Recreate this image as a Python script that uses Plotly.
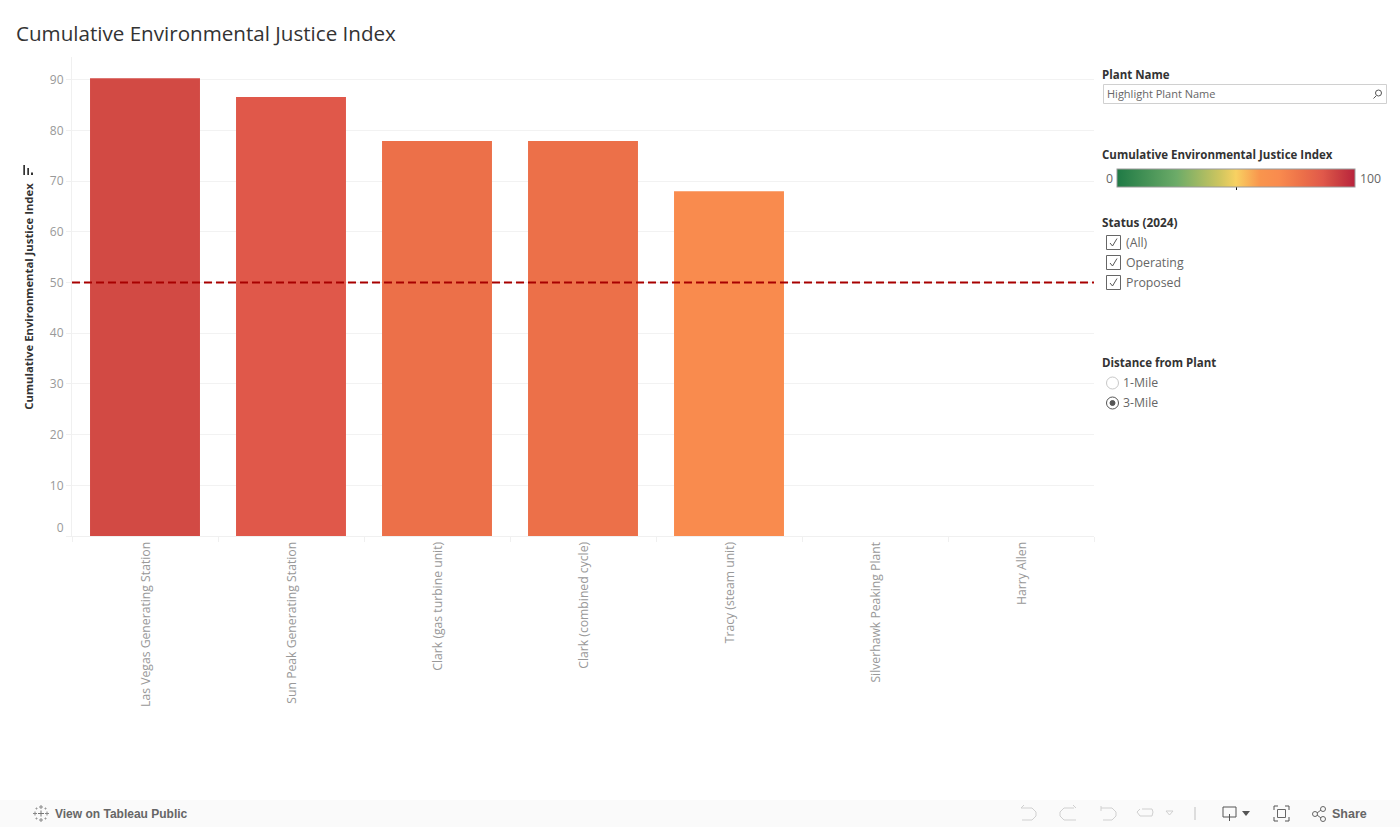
import plotly.graph_objects as go

plants = ["Las Vegas Generating Station", "Sun Peak Generating Station", "Clark (gas turbine unit)",
          "Clark (combined cycle)", "Tracy (steam unit)", "Silverhawk Peaking Plant", "Harry Allen"]
index_values = [90.3, 86.6, 77.9, 77.9, 68.0, 0, 0]
threshold = 50
y_ticks = [0, 10, 20, 30, 40, 50, 60, 70, 80, 90]
y_labels = ["0<br>&nbsp;"] + [str(v) for v in y_ticks[1:]]
colorscale = [[0, "#1f7a45"], [0.25, "#6cab68"], [0.43, "#cdc55f"], [0.5, "#f8d162"],
              [0.6, "#f9954d"], [0.68, "#f98b4e"], [0.779, "#ec7049"], [0.866, "#e0584a"],
              [0.903, "#d24a44"], [1, "#b8233c"]]

W, H = 1400, 827
L, R, T, B = 72, 1094, 57, 536
FONT = "Open Sans"
GREY = "#999999"
DARK = "#333333"
MID = "#666666"


def px(x):
    return x / W


def py(y):
    return 1 - y / H


shapes = []
annotations = []


def text(x, y, s, size=12.3, color=DARK, bold=False, font=FONT, anchor="left"):
    annotations.append(dict(xref="paper", yref="paper", x=px(x), y=py(y), text=f"<b>{s}</b>" if bold else s,
                            showarrow=False, xanchor=anchor, yanchor="middle", xshift=0,
                            font=dict(family=font, size=size, color=color), borderpad=0, borderwidth=0))


def rect(x0, y0, x1, y1, line="#999999", fill="rgba(0,0,0,0)", width=1):
    shapes.append(dict(type="rect", xref="paper", yref="paper", x0=px(x0), y0=py(y0), x1=px(x1), y1=py(y1),
                       line=dict(color=line, width=width), fillcolor=fill, layer="above"))


def seg(pts, color="#555555", width=1):
    for (a, b), (c, d) in zip(pts, pts[1:]):
        shapes.append(dict(type="line", xref="paper", yref="paper", x0=px(a), y0=py(b), x1=px(c), y1=py(d),
                           line=dict(color=color, width=width), layer="above"))


def circle(x, y, r, line="#999999", fill="rgba(0,0,0,0)", width=1):
    shapes.append(dict(type="circle", xref="paper", yref="paper", x0=px(x - r), y0=py(y - r), x1=px(x + r),
                       y1=py(y + r), line=dict(color=line, width=width), fillcolor=fill, layer="above"))


# Title
text(16, 33, "Cumulative Environmental Justice Index", size=20.6, color="#333333")

# Plant Name filter
text(1102, 75, "Plant Name", size=11.5, bold=True)
rect(1103.5, 84.5, 1386.5, 103.5, line="#d0d0d0")
text(1107, 94, "Highlight Plant Name", size=11, color=MID)
circle(1378.5, 93, 3, line="#555555")
seg([(1376, 96), (1373.5, 98.5)])

# Colour legend labels
text(1102, 155, "Cumulative Environmental Justice Index", size=11.5, bold=True)
text(1113, 178, "0", color=MID, anchor="right")
text(1360, 178, "100", color=MID)
seg([(1236.5, 186), (1236.5, 190)], color="#111111")

# Status filter
text(1102, 222.5, "Status (2024)", size=11.8, bold=True)
for yy, s in zip([243, 263, 283], ["(All)", "Operating", "Proposed"]):
    rect(1106.5, yy - 7.5, 1120.5, yy + 6.5, line="#666666")
    seg([(1110, yy), (1112.5, yy + 3), (1117, yy - 4.5)], color="#555555")
    text(1126, yy - 0.4, s, color=MID)

# Distance filter
text(1102, 362.5, "Distance from Plant", size=11.5, bold=True)
circle(1112.5, 383, 6, line="#c8c8c8")
text(1123, 382.6, "1-Mile", color=MID)
circle(1112.5, 403, 6, line="#555555")
circle(1112.5, 403, 2.5, line="#555555", fill="#555555")
text(1123, 402.6, "3-Mile", color=MID)

# Sort icon beside the axis title
for x0, x1, top in [(23.3, 25, 165), (27.3, 29, 168), (31, 33, 172.5)]:
    shapes.append(dict(type="rect", xref="paper", yref="paper", x0=px(x0), x1=px(x1), y0=py(175), y1=py(top),
                       fillcolor=DARK, line_width=0, layer="above"))

# Toolbar
shapes.append(dict(type="rect", xref="paper", yref="paper", x0=0, x1=1, y0=0, y1=py(800), fillcolor="#fafafa",
                   line_width=0, layer="below"))
text(55, 813.5, "View on Tableau Public", size=12, color=MID, bold=True, font="Liberation Sans")
text(1332, 813.5, "Share", size=12.5, color=MID, bold=True, font="Liberation Sans")
for cx, cy, r, c in [(41, 813.5, 3, "#777777"), (35, 813.5, 2, "#888888"), (47, 813.5, 2, "#888888"),
                     (41, 807, 2, "#888888"), (41, 820, 2, "#888888"), (36.5, 808.5, 1, "#999999"),
                     (45.5, 808.5, 1, "#999999"), (36.5, 818.5, 1, "#999999"), (45.5, 818.5, 1, "#999999")]:
    seg([(cx - r, cy), (cx + r, cy)], color=c)
    seg([(cx, cy - r), (cx, cy + r)], color=c)
light = "#d0d0d0"
seg([(1021, 808), (1032, 808), (1036, 812), (1036, 816), (1032, 820), (1022, 820)], color=light)
seg([(1021, 808), (1024, 805)], color=light)
seg([(1074, 808), (1064, 808), (1060, 812), (1060, 816), (1064, 820), (1076, 820)], color=light)
seg([(1076, 808), (1073, 805)], color=light)
seg([(1101, 808), (1112, 808), (1116, 812), (1116, 816), (1112, 820), (1103, 820)], color=light)
seg([(1101, 806), (1101, 811)], color=light)
seg([(1142, 809), (1152, 809), (1153, 812), (1152, 816), (1140, 816), (1137, 812), (1140, 809)], color=light)
seg([(1166, 811), (1173, 811), (1169.5, 815), (1166, 811)], color=light)
seg([(1195, 807), (1195, 820)], color="#c0c0c0")
seg([(1223, 807), (1236, 807), (1236, 817), (1223, 817), (1223, 807)], color="#555555")
seg([(1229.5, 814), (1229.5, 821)], color="#555555")
shapes.append(dict(type="path", xref="paper", yref="paper",
                   path=f"M {px(1242)} {py(811)} L {px(1250)} {py(811)} L {px(1246)} {py(816)} Z",
                   fillcolor="#555555", line_width=0, layer="above"))
rect(1277.5, 809.5, 1285.5, 817.5, line="#666666")
for a, b, c, d, e, f in [(1274, 810, 1274, 806, 1278, 806), (1289, 810, 1289, 806, 1285, 806),
                         (1274, 817, 1274, 821, 1278, 821), (1289, 817, 1289, 821, 1285, 821)]:
    seg([(a, b), (c, d), (e, f)], color="#555555")
circle(1315, 814, 2.5, line="#666666")
circle(1323, 809, 2.5, line="#666666")
circle(1323, 819, 2.5, line="#666666")
seg([(1317, 813), (1321, 810)], color="#666666")
seg([(1317, 815), (1321, 818)], color="#666666")

# Threshold reference line
shapes.append(dict(type="line", xref="x domain", yref="y", x0=0, x1=1, y0=threshold, y1=threshold, layer="above",
                   line=dict(color="#a80000", width=2, dash="8px,4px")))

fig = go.Figure(go.Bar(
    x=plants, y=index_values, width=0.753,
    marker=dict(color=index_values, colorscale=colorscale, cmin=0, cmax=100, line_width=0,
                colorbar=dict(orientation="h", x=px(1117), xanchor="left", y=py(187.5), yanchor="bottom",
                              lenmode="pixels", len=238, thicknessmode="pixels", thickness=18,
                              outlinecolor="#9a9a9a", outlinewidth=1, showticklabels=False, ticks="",
                              xpad=0, ypad=0, borderwidth=0)),
    hovertemplate="%{x}<br>%{y}<extra></extra>",
))
fig.update_layout(
    width=W, height=H, paper_bgcolor="white", plot_bgcolor="white", showlegend=False,
    margin=dict(l=0, r=0, t=0, b=0, pad=0, autoexpand=False), bargap=0.247,
    font=dict(family=FONT, size=12, color=GREY),
    shapes=shapes, annotations=annotations,
)
fig.update_xaxes(domain=[px(L), px(R)], type="category", categoryorder="array", categoryarray=plants, tickangle=-90,
                 tickson="boundaries", ticks="outside", ticklen=5, tickcolor="#f0f0f0", showgrid=False,
                 showline=True, linecolor="#f0f0f0", linewidth=1, zeroline=False, ticklabelshift=1,
                 tickfont=dict(size=12.2, color=GREY, family=FONT), automargin=False)
fig.update_yaxes(domain=[py(B), py(T)], range=[0, (B - T) / 5.07], tickmode="array", tickvals=y_ticks,
                 ticktext=y_labels, ticks="outside", ticklen=5, tickcolor="#f0f0f0", showgrid=True,
                 gridcolor="#f2f2f2", gridwidth=1, zeroline=False, showline=True, linecolor="#f0f0f0", linewidth=1,
                 tickfont=dict(size=12, color=GREY, family=FONT), automargin=False,
                 title=dict(text="<b>Cumulative Environmental Justice Index</b>", standoff=13,
                            font=dict(size=11.3, color=DARK, family=FONT)))
fig.write_html("out.html", config=dict(displayModeBar=False),
               post_script="document.body.style.margin='0';document.documentElement.style.margin='0';")
